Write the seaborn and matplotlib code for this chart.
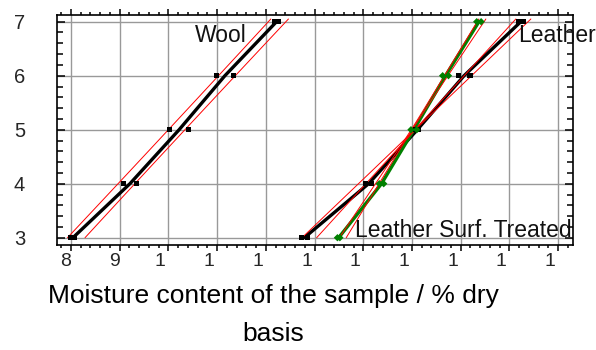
import numpy as np
import pandas as pd
import matplotlib
matplotlib.use("Agg")
import matplotlib.pyplot as plt
import matplotlib.transforms as mtransforms
from matplotlib.ticker import MultipleLocator
import seaborn as sns

# ---- data ----
levels = [3, 3, 4, 4, 5, 5, 6, 6, 7, 7]
wool = [8.00, 8.08, 9.07, 9.35, 10.02, 10.42, 10.99, 11.33, 12.19, 12.25]
leather = [12.73, 12.85, 14.05, 14.17, 15.08, 15.14, 15.95, 16.19, 17.19, 17.28]
leather_st = [13.47, 13.52, 14.33, 14.42, 14.98, 15.10, 15.63, 15.75, 16.33, 16.42]
series_names = ["Wool", "Leather", "Leather Surf. Treated"]
x_ticks = [8, 9, 10, 11, 12, 13, 14, 15, 16, 17, 18]
x_ticklabels = ["8", "9", "1", "1", "1", "1", "1", "1", "1", "1", "1"]
y_ticks = [3, 4, 5, 6, 7]
y_ticklabels = ["3", "4", "5", "6", "7"]
xlabel = "Moisture content of the sample / % dry\nbasis"
# red band half-width parameters: (centre width, slope term)
band_a = [0.17, 0.01, 0.01]
band_c = [0.03, 0.075, 0.035]

df = pd.DataFrame({
    "series": np.repeat(series_names, len(levels)),
    "level": levels * 3,
    "moisture": wool + leather + leather_st,
})

sns.set_style("white")
plt.rcParams["font.family"] = ["Liberation Sans", "DejaVu Sans"]

palette = {"Wool": "black", "Leather": "black", "Leather Surf. Treated": "#008000"}

fig = plt.figure(figsize=(5.96, 3.5), dpi=100)
ax = fig.add_axes([57 / 596, 1 - 245 / 350, (572.7 - 57) / 596, (245 - 15) / 350])

# mean-connecting lines
sns.lineplot(data=df, x="moisture", y="level", hue="series", palette=palette,
             estimator="mean", errorbar=None, orient="y", lw=2.4,
             legend=False, ax=ax, zorder=2)

# red bands around linear fits
for name, a, c in zip(series_names, band_a, band_c):
    sub = df[df["series"] == name]
    b1, b0 = np.polyfit(sub["level"], sub["moisture"], 1)
    ym = sub["level"].mean()
    yy = np.linspace(3.0, 7.05, 60)
    fit = b0 + b1 * yy
    h = np.sqrt(a ** 2 + (c * (yy - ym)) ** 2)
    ax.plot(fit - h, yy, color="red", lw=0.7, zorder=3)
    ax.plot(fit + h, yy, color="red", lw=0.7, zorder=3)

# data points
sns.scatterplot(data=df, x="moisture", y="level", hue="series", style="series",
                palette=palette,
                markers={"Wool": "s", "Leather": "s", "Leather Surf. Treated": "D"},
                s=14, linewidth=0, legend=False, ax=ax, zorder=4)

ax.set_xlim(7.713, 18.30)
ax.set_ylim(2.865, 7.124)
ax.set_xticks(x_ticks, x_ticklabels)
ax.set_yticks(y_ticks, y_ticklabels)
ax.xaxis.set_minor_locator(MultipleLocator(0.2))
ax.yaxis.set_minor_locator(MultipleLocator(0.2))
ax.grid(True, which="major", color="#999999", lw=1.0)
ax.set_axisbelow(True)

for sp in ax.spines.values():
    sp.set_visible(True)
    sp.set_color("black")
    sp.set_linewidth(1.2)

ax.tick_params(axis="x", which="both", direction="out", top=True, bottom=True,
               labeltop=False, labelsize=14, pad=1, color="black", width=1.1)
ax.tick_params(axis="x", which="major", length=4.5)
ax.tick_params(axis="x", which="minor", length=2.5)
ax.tick_params(axis="y", which="both", direction="in", left=True, right=True,
               labelright=False, labelsize=14.5, pad=23, color="black", width=1.1)
ax.tick_params(axis="y", which="major", length=6)
ax.tick_params(axis="y", which="minor", length=4)

# shift x tick labels slightly left as in the reference
for lab in ax.get_xticklabels():
    dx = -5 if lab.get_text() in ("8", "9") else -8
    lab.set_transform(lab.get_transform() +
                      mtransforms.ScaledTranslation(dx / 100, 0, fig.dpi_scale_trans))

ax.set_xlabel("")
ax.set_ylabel("")
fig.text(273 / 596, 1 - 284 / 350, xlabel, ha="center", va="top",
         fontsize=19, linespacing=1.75, color="black")

ax.text(10.54, 6.62, "Wool", fontsize=16.5, ha="left", va="baseline", color="#111111")
ax.text(17.18, 6.63, "Leather", fontsize=16.5, ha="left", va="baseline",
        color="#111111", clip_on=False)
ax.text(13.84, 3.02, "Leather Surf. Treated", fontsize=16.5, ha="left",
        va="baseline", color="#111111")

fig.savefig("out.png", dpi=100)
